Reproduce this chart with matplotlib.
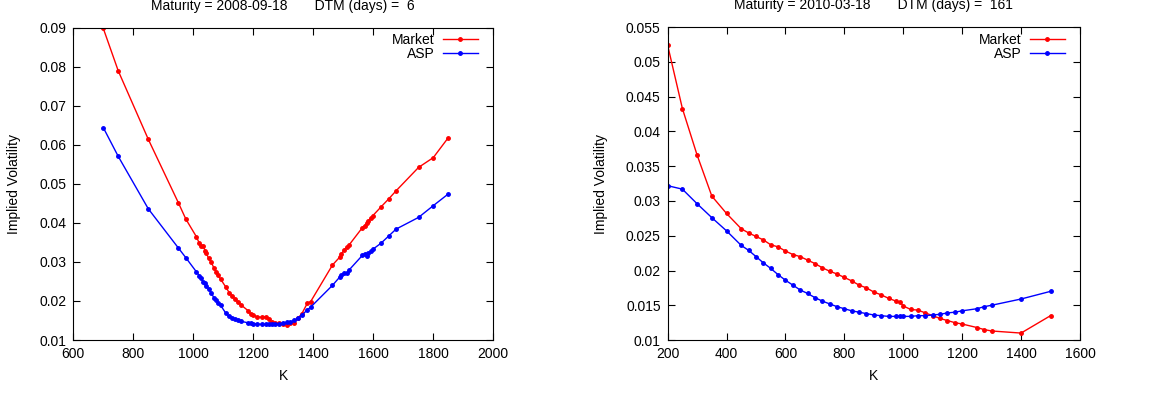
import matplotlib
matplotlib.use("Agg")
from matplotlib import pyplot as plt
from matplotlib.ticker import FormatStrFormatter, MultipleLocator

# Maturity 2008-09-18, DTM 6
k_short = [700, 750, 850, 950, 975, 1010, 1020, 1025, 1033, 1039, 1044, 1051, 1060,
           1069, 1076, 1083, 1091, 1109, 1120, 1130, 1139, 1148, 1159, 1183, 1191,
           1200, 1211, 1228, 1244, 1253, 1261, 1272, 1287, 1300, 1314, 1324, 1336,
           1348, 1361, 1380, 1391, 1464, 1489, 1494, 1503, 1511, 1519, 1564, 1571,
           1578, 1584, 1591, 1598, 1626, 1651, 1676, 1751, 1800, 1850]
market_short = [0.0898, 0.0789, 0.0614, 0.0452, 0.0410, 0.0365, 0.0348, 0.0341, 0.0342,
                0.0329, 0.0322, 0.0309, 0.0299, 0.0284, 0.0275, 0.0266, 0.0256, 0.0235,
                0.0221, 0.0213, 0.0205, 0.0198, 0.0190, 0.0175, 0.0167, 0.0164, 0.0160,
                0.0158, 0.0160, 0.0153, 0.0146, 0.0144, 0.0143, 0.0141, 0.0138, 0.0143,
                0.0144, 0.0156, 0.0166, 0.0194, 0.0198, 0.0292, 0.0313, 0.0320, 0.0331,
                0.0337, 0.0343, 0.0388, 0.0393, 0.0399, 0.0405, 0.0412, 0.0418, 0.0441,
                0.0461, 0.0482, 0.0542, 0.0567, 0.0618]
asp_short = [0.0644, 0.0570, 0.0436, 0.0336, 0.0311, 0.0275, 0.0265, 0.0258, 0.0249,
             0.0245, 0.0239, 0.0231, 0.0220, 0.0208, 0.0202, 0.0196, 0.0189, 0.0168,
             0.0161, 0.0157, 0.0154, 0.0151, 0.0148, 0.0144, 0.0143, 0.0142, 0.0141,
             0.0140, 0.0140, 0.0140, 0.0140, 0.0141, 0.0142, 0.0143, 0.0145, 0.0147,
             0.0150, 0.0156, 0.0163, 0.0177, 0.0184, 0.0240, 0.0262, 0.0266, 0.0272,
             0.0272, 0.0279, 0.0317, 0.0320, 0.0315, 0.0322, 0.0327, 0.0332, 0.0348,
             0.0366, 0.0384, 0.0414, 0.0444, 0.0474]

# Maturity 2010-03-18, DTM 161
k_long = [200, 250, 300, 350, 400, 450, 475, 500, 525, 550, 575, 600, 625, 650, 675,
          700, 725, 750, 775, 800, 825, 850, 875, 900, 925, 950, 975, 990, 1000, 1025,
          1050, 1075, 1100, 1125, 1150, 1175, 1200, 1250, 1275, 1300, 1400, 1500]
market_long = [0.0524, 0.0433, 0.0366, 0.0307, 0.0282, 0.0260, 0.0254, 0.0249, 0.0244,
               0.0237, 0.0234, 0.0228, 0.0223, 0.0220, 0.0215, 0.0210, 0.0204, 0.0199,
               0.0195, 0.0190, 0.0185, 0.0179, 0.0175, 0.0169, 0.0165, 0.0160, 0.0156,
               0.0154, 0.0149, 0.0144, 0.0143, 0.0139, 0.0135, 0.0131, 0.0128, 0.0125,
               0.0123, 0.0118, 0.0115, 0.0113, 0.0110, 0.0135]
asp_long = [0.0322, 0.0317, 0.0296, 0.0276, 0.0257, 0.0236, 0.0229, 0.0220, 0.0211,
            0.0203, 0.0194, 0.0186, 0.0179, 0.0172, 0.0167, 0.0161, 0.0156, 0.0152,
            0.0148, 0.0145, 0.0142, 0.0140, 0.0138, 0.0136, 0.0135, 0.0134, 0.0134,
            0.0134, 0.0134, 0.0134, 0.0135, 0.0135, 0.0136, 0.0137, 0.0139, 0.0140,
            0.0142, 0.0145, 0.0148, 0.0150, 0.0159, 0.0170]

plt.rcParams['font.family'] = ['Liberation Sans', 'DejaVu Sans']
plt.rcParams['font.size'] = 10

fig = plt.figure(figsize=(11.65, 3.94), dpi=100)
ax1 = fig.add_axes([0.0629, 0.137, 0.3605, 0.793])
ax2 = fig.add_axes([0.5731, 0.137, 0.3539, 0.794])


def draw(ax, k, market, asp, title, xlim, ylim, ystep):
    ax.plot(k, market, color='red', marker='o', ms=2.5, lw=1, label="Market")
    ax.plot(k, asp, color='blue', marker='o', ms=2.5, lw=1, label="ASP")
    ax.set_xlim(*xlim)
    ax.set_ylim(*ylim)
    ax.xaxis.set_major_locator(MultipleLocator(200))
    ax.yaxis.set_major_locator(MultipleLocator(ystep))
    ax.yaxis.set_major_formatter(FormatStrFormatter('%g'))
    ax.tick_params(direction='in', top=True, right=True, length=5, width=0.8,
                   labelsize=10, pad=5)
    ax.set_xlabel("K", fontsize=10, labelpad=6)
    ax.set_ylabel("Implied Volatility", fontsize=10, labelpad=13)
    ax.set_title(title, fontsize=10, pad=13)
    ax.legend(loc='upper right', bbox_to_anchor=(0.976, 1.0), frameon=False,
              markerfirst=False, handlelength=2.5, borderaxespad=0.0,
              labelspacing=0.0, handletextpad=0.6, fontsize=10)


draw(ax1, k_short, market_short, asp_short,
     "Maturity = 2008-09-18       DTM (days) =  6", (600, 2000), (0.01, 0.09), 0.01)
draw(ax2, k_long, market_long, asp_long,
     "Maturity = 2010-03-18       DTM (days) =  161", (200, 1600), (0.01, 0.055), 0.005)

plt.savefig("out.png", dpi=100)
